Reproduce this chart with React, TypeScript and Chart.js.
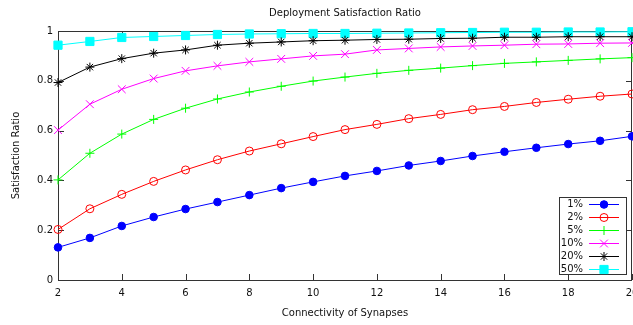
import React, { useEffect, useRef } from 'react';
import { Chart, registerables } from 'chart.js';
import { drawPoint } from 'chart.js/helpers';

Chart.register(...registerables);

const FONT = '"DejaVu Sans", sans-serif';

const chartTitle = 'Deployment Satisfaction Ratio';
const xTitle = 'Connectivity of Synapses';
const yTitle = 'Satisfaction Ratio';

const connectivity = [2, 3, 4, 5, 6, 7, 8, 9, 10, 11, 12, 13, 14, 15, 16, 17, 18, 19, 20];
const xTicks = [2, 4, 6, 8, 10, 12, 14, 16, 18, 20];
const xTickLabels = ['2', '4', '6', '8', '10', '12', '14', '16', '18', '20'];
const yTicks = [0, 0.2, 0.4, 0.6, 0.8, 1];
const yTickLabels = ['0', '0.2', '0.4', '0.6', '0.8', '1'];

const seriesLabels = ['1%', '2%', '5%', '10%', '20%', '50%'];

const sat1 = [0.131, 0.169, 0.217, 0.253, 0.285, 0.313, 0.341, 0.369, 0.394, 0.418, 0.438, 0.46, 0.478, 0.498, 0.515, 0.531, 0.546, 0.559, 0.577];
const sat2 = [0.203, 0.286, 0.344, 0.396, 0.442, 0.483, 0.518, 0.547, 0.576, 0.604, 0.625, 0.648, 0.665, 0.684, 0.697, 0.713, 0.726, 0.738, 0.747];
const sat5 = [0.402, 0.509, 0.586, 0.645, 0.69, 0.727, 0.755, 0.778, 0.799, 0.815, 0.83, 0.842, 0.851, 0.861, 0.87, 0.876, 0.882, 0.888, 0.893];
const sat10 = [0.602, 0.706, 0.766, 0.809, 0.84, 0.86, 0.876, 0.888, 0.9, 0.907, 0.924, 0.93, 0.936, 0.94, 0.943, 0.947, 0.948, 0.951, 0.952];
const sat20 = [0.793, 0.855, 0.889, 0.911, 0.924, 0.943, 0.951, 0.956, 0.961, 0.963, 0.966, 0.967, 0.97, 0.971, 0.975, 0.975, 0.977, 0.977, 0.977];
const sat50 = [0.943, 0.958, 0.974, 0.978, 0.982, 0.986, 0.988, 0.989, 0.99, 0.99, 0.991, 0.992, 0.993, 0.994, 0.995, 0.995, 0.996, 0.996, 0.997];

const seriesValues = [sat1, sat2, sat5, sat10, sat20, sat50];

const seriesStyles = [
  { color: '#0000ff', fill: '#0000ff', pointStyle: 'circle', radius: 3.8 },
  { color: '#ff0000', fill: 'rgba(0,0,0,0)', pointStyle: 'circle', radius: 4 },
  { color: '#00ff00', fill: 'rgba(0,0,0,0)', pointStyle: 'cross', radius: 4.5 },
  { color: '#ff00ff', fill: 'rgba(0,0,0,0)', pointStyle: 'crossRot', radius: 5.5 },
  { color: '#000000', fill: 'rgba(0,0,0,0)', pointStyle: 'star', radius: 4.5 },
  { color: '#00ffff', fill: '#00ffff', pointStyle: 'rect', radius: 5.8 },
];

const framePlugin = {
  id: 'gnuFrame',
  beforeDatasetsDraw(chart: any) {
    const { ctx, chartArea: a, scales } = chart;
    ctx.save();
    ctx.strokeStyle = '#333';
    ctx.lineWidth = 1;
    ctx.strokeRect(a.left + 0.5, a.top + 0.5, a.right - a.left - 1, a.bottom - a.top);
    ctx.beginPath();
    const T = 6;
    xTicks.forEach((v) => {
      const px = Math.round(scales.x.getPixelForValue(v)) + 0.5;
      ctx.moveTo(px, a.bottom);
      ctx.lineTo(px, a.bottom - T);
      ctx.moveTo(px, a.top);
      ctx.lineTo(px, a.top + T);
    });
    yTicks.forEach((v) => {
      const py = Math.round(scales.y.getPixelForValue(v)) + 0.5;
      ctx.moveTo(a.left, py);
      ctx.lineTo(a.left + T, py);
      ctx.moveTo(a.right, py);
      ctx.lineTo(a.right - T, py);
    });
    ctx.stroke();
    ctx.restore();
  },
  afterDraw(chart: any) {
    const { ctx, chartArea: a } = chart;
    ctx.save();
    ctx.fillStyle = '#111';
    ctx.font = '10px ' + FONT;
    ctx.textAlign = 'center';
    ctx.textBaseline = 'alphabetic';
    const cx = (a.left + a.right) / 2;
    ctx.fillText(chartTitle, cx, 16);
    ctx.fillText(xTitle, cx, 316);
    ctx.save();
    ctx.translate(18.5, (a.top + a.bottom) / 2);
    ctx.rotate(-Math.PI / 2);
    ctx.fillText(yTitle, 0, 0);
    ctx.restore();

    // legend
    const boxW = 67;
    const boxH = 77;
    const bx = a.right - 6 - boxW;
    const by = a.bottom - 6 - boxH;
    ctx.fillStyle = '#fff';
    ctx.fillRect(bx, by, boxW, boxH);
    ctx.strokeStyle = '#333';
    ctx.lineWidth = 1;
    ctx.strokeRect(bx + 0.5, by + 0.5, boxW, boxH);
    chart.data.datasets.forEach((ds: any, i: number) => {
      const y = by + 7 + 13 * i;
      ctx.fillStyle = '#111';
      ctx.textAlign = 'right';
      ctx.textBaseline = 'middle';
      ctx.fillText(ds.label, bx + 24, y);
      ctx.strokeStyle = ds.borderColor;
      ctx.lineWidth = 1;
      ctx.beginPath();
      ctx.moveTo(bx + 30, Math.round(y) + 0.5);
      ctx.lineTo(bx + 60, Math.round(y) + 0.5);
      ctx.stroke();
      ctx.fillStyle = ds.pointBackgroundColor;
      ctx.strokeStyle = ds.borderColor;
      drawPoint(ctx, { pointStyle: ds.pointStyle, rotation: 0, radius: ds.pointRadius, borderWidth: 1 } as any, bx + 45, Math.round(y) + 0.5);
    });
    ctx.restore();
  },
};

export default function App() {
  const ref = useRef<HTMLCanvasElement | null>(null);

  useEffect(() => {
    if (!ref.current) return;
    const datasets = seriesValues.map((vals, i) => ({
      label: seriesLabels[i],
      data: connectivity.map((x, j) => ({ x, y: vals[j] })),
      borderColor: seriesStyles[i].color,
      backgroundColor: seriesStyles[i].fill,
      pointBackgroundColor: seriesStyles[i].fill,
      pointBorderColor: seriesStyles[i].color,
      pointStyle: seriesStyles[i].pointStyle,
      pointRadius: seriesStyles[i].radius,
      pointBorderWidth: 1,
      borderWidth: 1,
      tension: 0,
      fill: false,
      clip: false as any,
    }));
    const chart = new Chart(ref.current, {
      type: 'line',
      data: { datasets },
      options: {
        animation: false,
        responsive: false,
        devicePixelRatio: 1,
        layout: { autoPadding: false, padding: { top: 31, right: 1, bottom: 0, left: 0 } } as any,
        plugins: { legend: { display: false }, tooltip: { enabled: false }, title: { display: false } },
        scales: {
          x: {
            type: 'linear',
            min: 2,
            max: 20,
            grid: { display: false, drawTicks: false },
            border: { display: false },
            afterFit: (s: any) => { s.height = 45; s.paddingLeft = 0; s.paddingRight = 0; },
            afterBuildTicks: (s: any) => { s.ticks = xTicks.map((v) => ({ value: v })); },
            ticks: {
              padding: 7,
              maxRotation: 0,
              autoSkip: false,
              color: '#111',
              font: { family: FONT, size: 10 },
              callback: (v: any) => xTickLabels[xTicks.indexOf(Number(v))] ?? '',
            },
          },
          y: {
            type: 'linear',
            min: 0,
            max: 1,
            grid: { display: false, drawTicks: false },
            border: { display: false },
            afterFit: (s: any) => { s.width = 58; s.paddingTop = 0; s.paddingBottom = 0; },
            afterBuildTicks: (s: any) => { s.ticks = yTicks.map((v) => ({ value: v })); },
            ticks: {
              padding: 5,
              autoSkip: false,
              color: '#111',
              font: { family: FONT, size: 10 },
              callback: (v: any) => {
                const idx = yTicks.findIndex((t) => Math.abs(t - Number(v)) < 1e-9);
                return idx >= 0 ? yTickLabels[idx] : '';
              },
            },
          },
        },
      },
      plugins: [framePlugin],
    });
    return () => chart.destroy();
  }, []);

  return (
    <div style={{ position: 'fixed', left: 0, top: 0, width: 633, height: 325, background: '#fff' }}>
      <canvas ref={ref} width={633} height={325} style={{ display: 'block', width: 633, height: 325 }} />
    </div>
  );
}
